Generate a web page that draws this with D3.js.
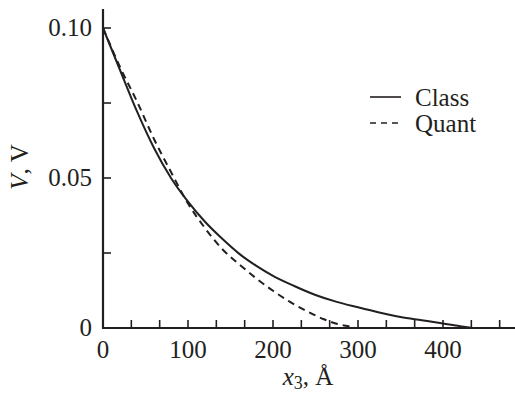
<!DOCTYPE html>
<html>
<head>
<meta charset="utf-8">
<script src="https://cdn.jsdelivr.net/npm/d3@7"></script>
<style>
body { margin: 0; background: #fff; }
text { font-family: "Liberation Serif", "Times New Roman", serif; fill: #231f20; }
</style>
</head>
<body>
<div id="chart"></div>
<script>
// Width and height
var chart_width  = 515;
var chart_height = 396;

// Data
var class_x = [0, 20, 40, 60, 80, 100, 120, 140, 160, 180, 200, 225, 250, 275, 300, 325, 350, 375, 400, 420, 435];
var class_v = [0.100, 0.086, 0.0722, 0.060, 0.050, 0.0421, 0.0354, 0.0298, 0.0248, 0.0208, 0.0174,
               0.0140, 0.0110, 0.0087, 0.0069, 0.0052, 0.0037, 0.0026, 0.0015, 0.0006, 0];
var quant_x = [0, 20, 40, 60, 80, 100, 120, 140, 160, 180, 200, 220, 240, 260, 275, 290, 297];
var quant_v = [0.100, 0.087, 0.0755, 0.063, 0.052, 0.0415, 0.0333, 0.0264, 0.0213, 0.0166, 0.0124,
               0.0087, 0.0056, 0.0029, 0.0014, 0.0005, 0];
var x_ticks = [0, 100, 200, 300, 400];
var y_ticks = [0, 0.05, 0.10];
var series_names = ["Class", "Quant"];

var x = d3.scaleLinear().domain([0, 100]).range([103, 188]);
var y = d3.scaleLinear().domain([0, 0.05]).range([328, 178]);

var svg = d3.select("#chart")
    .append("svg")
    .attr("width", chart_width)
    .attr("height", chart_height);

// axes lines
svg.append("line")
    .attr("x1", x(0) - 1).attr("x2", chart_width)
    .attr("y1", y(0)).attr("y2", y(0))
    .attr("stroke", "#231f20").attr("stroke-width", 2.2);
svg.append("line")
    .attr("x1", x(0)).attr("x2", x(0))
    .attr("y1", y(0) + 1).attr("y2", 9)
    .attr("stroke", "#231f20").attr("stroke-width", 2.2);

// minor ticks, pointing inside
var x_minor = d3.range(1, 15).map(function(i){ return i * 100 / 3; });
svg.selectAll(".xt")
    .data(x_minor)
    .enter()
    .append("line")
    .attr("x1", function(d){ return x(d); })
    .attr("x2", function(d){ return x(d); })
    .attr("y1", y(0)).attr("y2", y(0) - 8)
    .attr("stroke", "#231f20").attr("stroke-width", 1.6);

var y_minor = [0.025, 0.05, 0.075, 0.10];
svg.selectAll(".yt")
    .data(y_minor)
    .enter()
    .append("line")
    .attr("x1", x(0)).attr("x2", x(0) + 8)
    .attr("y1", function(d){ return y(d); })
    .attr("y2", function(d){ return y(d); })
    .attr("stroke", "#231f20").attr("stroke-width", 1.6);

// tick labels
svg.selectAll(".xl")
    .data(x_ticks)
    .enter()
    .append("text")
    .attr("x", function(d){ return x(d); })
    .attr("y", 358)
    .attr("text-anchor", "middle")
    .attr("font-size", 25)
    .text(function(d){ return d; });

svg.selectAll(".yl")
    .data(y_ticks)
    .enter()
    .append("text")
    .attr("x", 92)
    .attr("y", function(d){ return y(d) + 8; })
    .attr("text-anchor", "end")
    .attr("font-size", 25)
    .text(function(d){ return d === 0 ? "0" : d.toFixed(2); });

// axis titles
var xt = svg.append("text")
    .attr("x", 308)
    .attr("y", 385)
    .attr("text-anchor", "middle")
    .attr("font-size", 25);
xt.append("tspan").attr("font-style", "italic").text("x");
xt.append("tspan").attr("font-size", 18).attr("dy", 4).text("3");
xt.append("tspan").attr("dy", -4).text(", Å");

svg.append("text")
    .attr("transform", "translate(28,167) rotate(-90)")
    .attr("text-anchor", "middle")
    .attr("font-size", 25)
    .html('<tspan font-style="italic">V</tspan>, V');

// curves
var line = d3.line()
    .x(function(d){ return x(d[0]); })
    .y(function(d){ return y(d[1]); })
    .curve(d3.curveMonotoneX);

var class_pts = class_x.map(function(d, i){ return [d, class_v[i]]; });
var quant_pts = quant_x.map(function(d, i){ return [d, quant_v[i]]; });

svg.append("path")
    .attr("d", line(class_pts))
    .attr("fill", "none")
    .attr("stroke", "#231f20")
    .attr("stroke-width", 2);

svg.append("path")
    .attr("d", line(quant_pts))
    .attr("fill", "none")
    .attr("stroke", "#231f20")
    .attr("stroke-width", 2)
    .attr("stroke-dasharray", "7,5");

// legend
var legend = svg.selectAll(".leg")
    .data(series_names)
    .enter()
    .append("g")
    .attr("transform", function(d, i){ return "translate(370," + (97 + i * 26) + ")"; });

legend.append("line")
    .attr("x1", 0).attr("x2", 31)
    .attr("stroke", "#231f20")
    .attr("stroke-width", 1.6)
    .attr("stroke-dasharray", function(d, i){ return i ? "6,5" : null; });

legend.append("text")
    .attr("x", 45)
    .attr("y", 9)
    .attr("font-size", 25)
    .text(function(d){ return d; });
</script>
</body>
</html>
